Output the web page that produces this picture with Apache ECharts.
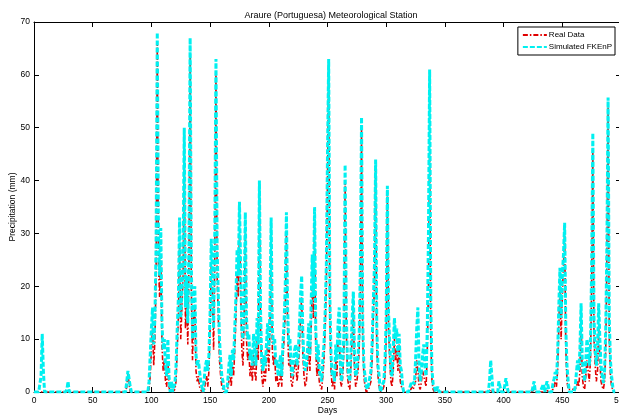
<!DOCTYPE html>
<html>
<head>
<meta charset="utf-8">
<script src="https://cdn.jsdelivr.net/npm/echarts@6/dist/echarts.min.js"></script>
<style>
html,body{margin:0;padding:0;background:#fff;}
#c{width:619px;height:418px;}
</style>
</head>
<body>
<div id="c"></div>
<script>
// Daily precipitation (mm), days 0..495, ten values per row
const realData = [
/*0*/   0,0,0,0,0,0,0,0.3,0,0,
/*10*/  0,0,0,0,0,0,0,0,0,0,
/*20*/  0,0,0,0,0,0,0,0,0,0.2,
/*30*/  0,0,0,0,0,0,0,0,0,0,
/*40*/  0,0,0,0,0,0,0,0,0,0,
/*50*/  0,0,0,0,0,0,0,0,0,0,
/*60*/  0,0,0,0,0,0,0,0,0,0,
/*70*/  0,0,0,0,0,0,0,0,0,1,
/*80*/  3.5,1.5,0,0,0,0,0,0,0,0,
/*90*/  0,0,0,0,0,0,0,0,0.5,3,
/*100*/ 8,12,5,10,22,66,24,18,26,9,
/*110*/ 4,6,2,1,6,1,0,0.5,0,0,
/*120*/ 0.5,2,8,14,28,10,16,22,46,12,
/*130*/ 18,9,24,64,20,6,14,16,4,2,
/*140*/ 3,1,0.5,0,0,0,2,3,1,4,
/*150*/ 12,24,18,8,26,60,22,14,6,3,
/*160*/ 1,0.5,0,0,0,0.5,2,4,1,5,
/*170*/ 3,8,14,22,18,30,20,8,5,14,
/*180*/ 30,10,6,8,3,5,2,7,4,2,
/*190*/ 10,6,37,12,3,1,4,2,6,9,
/*200*/ 4,12,30,8,5,7,2,3,1,2,
/*210*/ 4,1,6,10,15,30,12,5,7,2,
/*220*/ 1,3,5,6,2,4,8,14,18,7,
/*230*/ 3,1,2,5,9,4,12,20,14,32,
/*240*/ 8,3,6,2,1,0.5,3,6,12,20,
/*250*/ 40,62,14,4,1,2,0.5,6,3,10,
/*260*/ 12,2,1,3,8,40,12,3,1,0.5,
/*270*/ 5,10,16,4,1,2,4,8,20,50,
/*280*/ 10,3,1,0,0,0.5,0.5,2,6,14,
/*290*/ 20,42,8,3,1,0,0,0.5,1,3,
/*300*/ 10,37,12,6,2,1,4,10,6,8,
/*310*/ 4,9,2,1,0.5,0,0,0,0,0,
/*320*/ 0,0.5,1,0.5,0.5,2,6,4,1,0.5,
/*330*/ 2,4,3,2,1,8,20,45,10,2,
/*340*/ 0.5,0,0,0,0,0,0,0,0,0,
/*350*/ 0,0,0,0,0,0,0,0,0,0,
/*360*/ 0,0,0,0,0,0,0,0,0,0,
/*370*/ 0,0,0,0,0,0,0,0,0,0,
/*380*/ 0,0,0,0,0,0,0,0,0,0.5,
/*390*/ 0,0,0,0,0,0,0.3,0,0,0,
/*400*/ 0,0,0.2,0,0,0,0,0,0,0,
/*410*/ 0,0,0,0,0,0,0,0,0,0,
/*420*/ 0,0,0,0,0,0.3,0.5,0,0,0,
/*430*/ 0,0,0,0,0.3,0,0,0.5,0,0,
/*440*/ 0,0,0.5,1,2,1,4,12,20,10,
/*450*/ 18,24,30,8,2,0.5,0.5,0.5,0.5,0.5,
/*460*/ 0.5,0.5,1,2,1,4,14,3,1,0.5,
/*470*/ 3,6,4,2,6,20,46,10,5,2,
/*480*/ 4,12,6,2,1,0.5,2,8,25,54,
/*490*/ 10,3,1,0.5,0,0
];
const simData = [
/*0*/   0,0,0,0,0,0,3,11,4,0,
/*10*/  0,0,0,0,0,0,0,0,0,0,
/*20*/  0,0,0,0,0,0,0,0,0.5,2,
/*30*/  0,0,0,0,0,0,0,0,0,0,
/*40*/  0,0,0,0,0,0,0,0,0,0,
/*50*/  0,0,0,0,0,0,0,0,0,0,
/*60*/  0,0,0,0,0,0,0,0,0,0,
/*70*/  0,0,0,0,0,0,0,0,0,2,
/*80*/  4,2.5,1,0,0,0,0,0,0,0,
/*90*/  0,0,0,0,0,0,0,0,2,7,
/*100*/ 12,16,9,14,28,68,30,22,31,13,
/*110*/ 8,10,5,3,10,3,0,2,0,1,
/*120*/ 1.5,5,12,18,33,14,20,26,50,16,
/*130*/ 22,13,28,67,24,10,18,20,7,5,
/*140*/ 6,4,2,1,0,0,5,6,4,7,
/*150*/ 15,29,22,12,30,63,27,18,10,6,
/*160*/ 3,2,0,0,0,2,5,7,3,8,
/*170*/ 6,12,18,27,22,36,24,12,10,18,
/*180*/ 34,14,10,11,6,8,5,11,8,5,
/*190*/ 14,9,40,15,6,4,7,5,9,13,
/*200*/ 8,16,33,12,9,10,5,6,3,5,
/*210*/ 7,3,9,13,20,34,16,9,10,5,
/*220*/ 3,6,8,9,5,7,12,18,22,11,
/*230*/ 6,4,5,8,13,7,16,26,18,35,
/*240*/ 12,6,9,4,3,2,6,9,15,24,
/*250*/ 45,63,18,7,3,4,2,9,6,13,
/*260*/ 16,5,2,6,11,43,15,6,3,2,
/*270*/ 8,14,19,7,3,4,7,11,24,52,
/*280*/ 13,5,3,1,0.5,1.5,1.5,4,9,17,
/*290*/ 24,44,12,5,3,0,0,1.5,2,6,
/*300*/ 14,39,15,9,4,3,8,14,10,12,
/*310*/ 7,11,5,4,1,0,0,0,0,0,
/*320*/ 0,1.5,2,2,1.5,6,12,16,5,2,
/*330*/ 4,7,9,5,3,12,30,61,16,4,
/*340*/ 1.5,1,0,0,1,0,0,0,0,0,
/*350*/ 0,0,0,0,0,0,0,0,0,0,
/*360*/ 0,0,0,0,0,0,0,0,0,0,
/*370*/ 0,0,0,0,0,0,0,0,0,0,
/*380*/ 0,0,0,0,0,0,0,0,2,6,
/*390*/ 3,0,0,0,0,0,2,1,0,0,
/*400*/ 0,0,2.6,1,0,0,0,0,0,0,
/*410*/ 0,0,0,0,0,0,0,0,0,0,
/*420*/ 0,0,0,0,0,1,2,0,0,0,
/*430*/ 0,0,0,1,1.5,0,0,2,1,0,
/*440*/ 0,0,1.5,2.5,3.8,2.5,7,16,23.5,14,
/*450*/ 22,26,32,12,5,2,0,0,0,0,
/*460*/ 0,1,3.6,6,4,8,16.8,6,4,2,
/*470*/ 6,10,8.3,5,9,24,49,14,8,5,
/*480*/ 8,16.8,10,5,3,1.7,4,12,28,55.7,
/*490*/ 14,6,3,1,0,0
];
const xTicks = [0, 500, 50];   // min, max, step
const yTicks = [0, 70, 10];
const titleText = 'Araure (Portuguesa) Meteorological Station';
const seriesNames = ['Real Data', 'Simulated FKEnP'];

const font = "'Liberation Sans Narrow','Arial Narrow','Liberation Sans',Arial,sans-serif";
const toPairs = arr => arr.map((v, i) => [i, v]);

const chart = echarts.init(document.getElementById('c'), null, {renderer: 'canvas'});
const axisBase = {
  axisLine: {show: true, onZero: false, lineStyle: {color: '#000', width: 1}},
  axisTick: {show: true, inside: true, length: 5, lineStyle: {color: '#000'}},
  splitLine: {show: false}
};
chart.setOption({
  animation: false,
  backgroundColor: '#fff',
  title: {
    text: titleText, left: 326, top: 6, textAlign: 'center',
    textStyle: {fontFamily: font, fontSize: 9, fontWeight: 'normal', color: '#000'}
  },
  legend: {
    orient: 'vertical', right: 4, top: 27,
    backgroundColor: '#fff', borderColor: '#000', borderWidth: 1,
    padding: [4, 3, 4, 4], itemGap: 4, itemWidth: 24, itemHeight: 10,
    itemStyle: {opacity: 0},
    textStyle: {fontFamily: font, fontSize: 8, color: '#000', padding: [0, 0, 0, -3]},
    data: seriesNames
  },
  grid: {left: 34, right: -2, top: 22, bottom: 26, containLabel: false, outerBoundsMode: 'none'},
  xAxis: [
    Object.assign({
      type: 'value', min: xTicks[0], max: xTicks[1], interval: xTicks[2],
      name: 'Days', nameLocation: 'middle', nameGap: 14, nameMoveOverlap: false,
      nameTextStyle: {fontFamily: font, fontSize: 8.5, color: '#000'},
      axisLabel: {fontFamily: font, fontSize: 8.5, color: '#000', margin: 4}
    }, axisBase),
    Object.assign({
      type: 'value', position: 'top', min: xTicks[0], max: xTicks[1], interval: xTicks[2],
      axisLabel: {show: false}
    }, axisBase)
  ],
  yAxis: [
    Object.assign({
      type: 'value', min: yTicks[0], max: yTicks[1], interval: yTicks[2],
      name: 'Precipitation (mm)', nameLocation: 'middle', nameGap: 17, nameRotate: 90,
      nameMoveOverlap: false,
      nameTextStyle: {fontFamily: font, fontSize: 8.5, color: '#000'},
      axisLabel: {fontFamily: font, fontSize: 8.5, color: '#000', margin: 4}
    }, axisBase),
    Object.assign({
      type: 'value', position: 'right', min: yTicks[0], max: yTicks[1], interval: yTicks[2],
      axisLabel: {show: false}
    }, axisBase)
  ],
  series: [
    {
      name: seriesNames[0], type: 'line', data: toPairs(realData),
      symbol: 'none', showSymbol: false, z: 2,
      lineStyle: {color: '#e00000', width: 1.6, type: [5, 2, 1.5, 2]},
      itemStyle: {color: '#e00000'}
    },
    {
      name: seriesNames[1], type: 'line', data: toPairs(simData),
      symbol: 'none', showSymbol: false, z: 3,
      lineStyle: {color: '#00f0f0', width: 3, type: [5, 2]},
      itemStyle: {color: '#00f0f0'}
    }
  ]
});
</script>
</body>
</html>
